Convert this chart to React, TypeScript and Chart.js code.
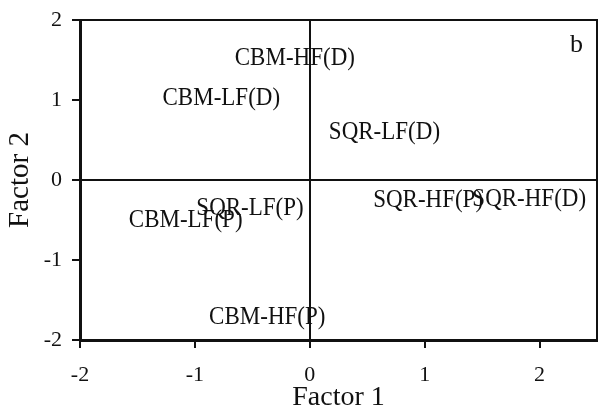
import React, { useEffect, useRef } from "react";
import { Chart, registerables } from "chart.js";

Chart.register(...registerables);

const labels = ["CBM-HF(D)", "CBM-LF(D)", "SQR-LF(D)", "SQR-HF(P)", "SQR-HF(D)", "SQR-LF(P)", "CBM-LF(P)", "CBM-HF(P)"];
const factor1 = [-0.13, -0.77, 0.65, 1.03, 1.91, -0.52, -1.08, -0.37];
const factor2 = [1.52, 1.02, 0.6, -0.25, -0.24, -0.35, -0.5, -1.72];
const xTicks = [-2, -1, 0, 1, 2];
const yTicks = [-2, -1, 0, 1, 2];
const panelLetter = "b";

const FONT = "'Liberation Serif', 'Times New Roman', serif";

const labelPlugin = {
  id: "pointLabels",
  afterDatasetsDraw(chart: any) {
    const { ctx, scales, chartArea } = chart;
    const xs = scales.x;
    const ys = scales.y;
    ctx.save();
    ctx.strokeStyle = "#111";
    ctx.lineWidth = 2;
    ctx.beginPath();
    ctx.moveTo(chartArea.left, chartArea.top);
    ctx.lineTo(chartArea.right, chartArea.top);
    ctx.lineTo(chartArea.right, chartArea.bottom);
    ctx.stroke();
    ctx.fillStyle = "#111";
    ctx.textAlign = "center";
    ctx.textBaseline = "middle";
    ctx.font = `23px ${FONT}`;
    labels.forEach((t, i) => {
      const px = xs.getPixelForValue(factor1[i]);
      const py = ys.getPixelForValue(factor2[i]);
      ctx.save();
      ctx.translate(px, py);
      ctx.scale(1, 1.12);
      ctx.fillText(t, 0, 0);
      ctx.restore();
    });
    ctx.font = `26px ${FONT}`;
    ctx.textAlign = "right";
    ctx.fillText(panelLetter, chartArea.right - 14, chartArea.top + 25);
    ctx.restore();
  },
};

export default function App() {
  const ref = useRef<HTMLCanvasElement | null>(null);
  useEffect(() => {
    if (!ref.current) return;
    const chart = new Chart(ref.current, {
      type: "scatter",
      data: {
        datasets: [
          {
            data: factor1.map((x, i) => ({ x, y: factor2[i] })),
            pointRadius: 0,
            showLine: false,
          },
        ],
      },
      options: {
        animation: false,
        responsive: false,
        layout: { padding: { top: 20, right: 8, left: 0, bottom: 0 } },
        plugins: { legend: { display: false }, tooltip: { enabled: false } },
        scales: {
          x: {
            type: "linear",
            min: -2,
            max: 2.5,
            afterBuildTicks: (s: any) => {
              s.ticks = xTicks.map((v) => ({ value: v }));
            },
            afterFit: (s: any) => {
              s.height = 70;
            },
            border: { display: true, color: "#111", width: 3 },
            grid: {
              color: (c: any) => (c.tick && c.tick.value === 0 ? "#111" : "rgba(0,0,0,0)"),
              lineWidth: 2,
              tickColor: "#111",
              tickLength: 8,
              tickWidth: 2,
            },
            ticks: { color: "#111", font: { family: FONT, size: 22, lineHeight: 1.2 }, padding: 14, maxRotation: 0 },
            title: { display: true, text: "Factor 1", color: "#111", font: { family: FONT, size: 28, lineHeight: 0.85 }, padding: { top: 0, bottom: 0 } },
          },
          y: {
            type: "linear",
            min: -2,
            max: 2,
            afterBuildTicks: (s: any) => {
              s.ticks = yTicks.map((v) => ({ value: v }));
            },
            afterFit: (s: any) => {
              s.width = 80;
            },
            border: { display: true, color: "#111", width: 3 },
            grid: {
              color: (c: any) => (c.tick && c.tick.value === 0 ? "#111" : "rgba(0,0,0,0)"),
              lineWidth: 2,
              tickColor: "#111",
              tickLength: 8,
              tickWidth: 2,
            },
            ticks: { color: "#111", font: { family: FONT, size: 22, lineHeight: 0.85 }, padding: 10 },
            title: { display: true, text: "Factor 2", color: "#111", font: { family: FONT, size: 29 }, padding: { top: 3, bottom: 4 } },
          },
        },
      },
      plugins: [labelPlugin],
    });
    return () => chart.destroy();
  }, []);
  return (
    <div style={{ position: "fixed", left: 0, top: 0, width: 605, height: 410, background: "#fff" }}>
      <canvas ref={ref} width={605} height={410} style={{ width: 605, height: 410 }} />
    </div>
  );
}
